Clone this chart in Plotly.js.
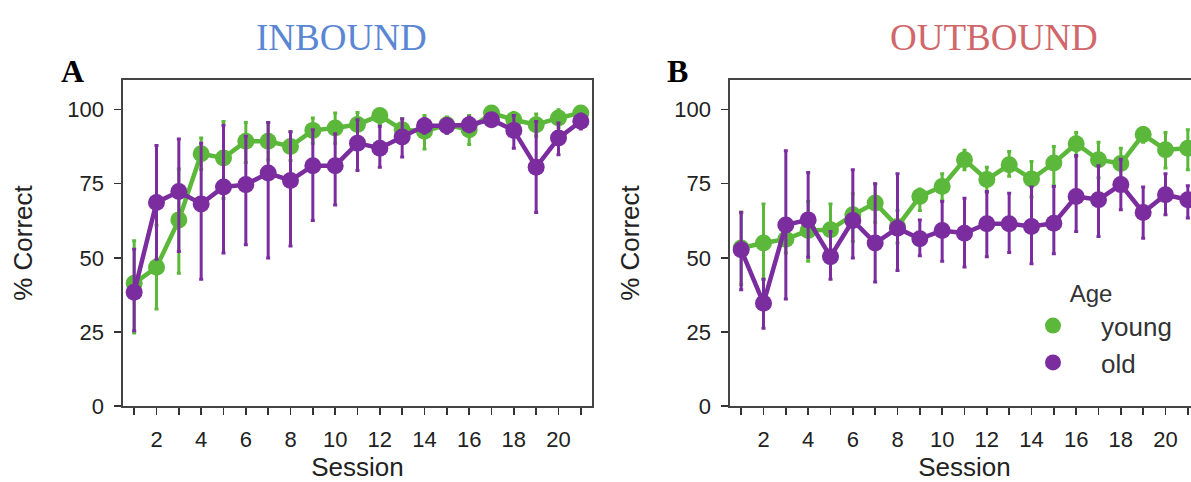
<!DOCTYPE html>
<html>
<head>
<meta charset="utf-8">
<script src="https://cdn.plot.ly/plotly-3.0.1.min.js"></script>
<style>
html, body { margin: 0; padding: 0; overflow: hidden; background: #fff; }
#chart { width: 1204px; height: 482px; }
</style>
</head>
<body>
<div id="chart"></div>
<script>
// Sessions
const sessions = [1,2,3,4,5,6,7,8,9,10,11,12,13,14,15,16,17,18,19,20,21];
const xTickText = ['', '2', '', '4', '', '6', '', '8', '', '10', '', '12', '', '14', '', '16', '', '18', '', '20', ''];
const yTicks = [0, 25, 50, 75, 100];

// INBOUND — young
const inYoung      = [41.4, 46.8, 62.8, 85.1, 83.7, 89.3, 89.3, 87.6, 93.0, 93.8, 95.0, 98.0, 93.2, 92.7, 94.9, 93.2, 98.9, 96.6, 94.9, 97.2, 98.9];
const inYoungLow   = [24.6, 32.7, 44.8, 79.8, 70.0, 82.2, 83.0, 82.8, 88.7, 88.7, 91.0, 95.0, 89.0, 86.7, 92.0, 88.2, 97.0, 94.0, 91.0, 94.0, 97.0];
const inYoungHigh  = [55.8, 61.0, 80.0, 90.4, 96.0, 95.7, 95.7, 92.5, 97.2, 98.9, 99.0, 100, 97.0, 98.0, 97.5, 98.0, 100, 99.0, 98.5, 100, 100];

// INBOUND — old
const inOld        = [38.4, 68.7, 72.4, 68.2, 73.9, 74.7, 78.6, 76.1, 81.1, 81.1, 88.7, 87.0, 90.8, 94.6, 94.6, 94.9, 96.6, 93.0, 80.6, 90.4, 96.1];
const inOldLow     = [25.4, 49.5, 52.1, 42.8, 51.6, 54.4, 49.9, 54.0, 62.6, 67.8, 79.5, 80.6, 84.0, 92.0, 92.0, 92.5, 95.0, 87.0, 65.3, 84.8, 93.5];
const inOldHigh    = [52.9, 87.9, 90.1, 88.7, 94.7, 91.0, 95.7, 92.5, 93.2, 91.9, 96.6, 94.4, 96.8, 97.0, 97.0, 97.5, 98.5, 98.0, 96.0, 95.5, 98.5];

// OUTBOUND — young
const outYoung     = [53.3, 55.0, 56.3, 59.2, 59.5, 64.5, 68.5, 60.6, 70.7, 74.1, 83.1, 76.4, 81.4, 76.6, 82.0, 88.5, 83.1, 81.8, 91.6, 86.5, 87.0];
const outYoungLow  = [41.0, 42.8, 51.6, 48.8, 51.0, 55.5, 62.0, 55.0, 66.0, 69.4, 79.7, 72.0, 77.5, 70.5, 74.3, 84.2, 77.0, 77.0, 89.0, 80.3, 79.7];
const outYoungHigh = [65.5, 68.2, 62.0, 69.0, 68.2, 71.6, 75.0, 66.0, 73.2, 78.4, 86.3, 80.6, 85.9, 82.5, 87.6, 92.3, 89.0, 87.0, 94.0, 92.3, 93.2];

// OUTBOUND — old
const outOld       = [52.7, 34.7, 61.1, 62.8, 50.4, 62.6, 55.0, 60.0, 56.4, 59.2, 58.3, 61.5, 61.5, 60.6, 61.7, 70.7, 69.6, 74.7, 65.3, 71.3, 69.6];
const outOldLow    = [39.2, 26.2, 36.1, 50.2, 42.8, 49.9, 41.8, 45.7, 50.7, 48.8, 46.9, 50.4, 51.8, 48.0, 51.4, 58.9, 57.2, 66.2, 56.6, 64.5, 63.4];
const outOldHigh   = [65.3, 42.8, 86.1, 78.8, 58.9, 79.7, 75.0, 78.4, 62.8, 69.0, 70.1, 72.4, 71.8, 73.9, 74.1, 84.5, 81.1, 83.3, 73.9, 78.4, 74.3];

const GREEN = '#5cb83b';
const PURPLE = '#7b2d9f';

function series(mean, low, high, color, xa, ya) {
  return {
    x: sessions, y: mean, xaxis: xa, yaxis: ya,
    type: 'scatter', mode: 'lines+markers', showlegend: false,
    line: {color: color, width: 4.5},
    marker: {color: color, size: 17},
    error_y: {
      type: 'data', symmetric: false,
      array: high.map((h, i) => h - mean[i]),
      arrayminus: mean.map((m, i) => m - low[i]),
      color: color, thickness: 3, width: 2
    },
    hoverinfo: 'x+y'
  };
}

const data = [
  series(inYoung, inYoungLow, inYoungHigh, GREEN, 'x', 'y'),
  series(inOld, inOldLow, inOldHigh, PURPLE, 'x', 'y'),
  series(outYoung, outYoungLow, outYoungHigh, GREEN, 'x2', 'y2'),
  series(outOld, outOldLow, outOldHigh, PURPLE, 'x2', 'y2'),
  {x: [null], y: [null], xaxis: 'x2', yaxis: 'y2', type: 'scatter', mode: 'markers', name: 'young', marker: {color: GREEN, size: 17}},
  {x: [null], y: [null], xaxis: 'x2', yaxis: 'y2', type: 'scatter', mode: 'markers', name: 'old', marker: {color: PURPLE, size: 17}}
];

const tickFont = {family: 'Liberation Sans, Arial, sans-serif', size: 22, color: '#222'};
const titleFont = {family: 'Liberation Sans, Arial, sans-serif', size: 26, color: '#222'};

function xAxis(domain, anchor) {
  return {
    domain: domain, anchor: anchor, range: [0.5, 21.5],
    tickmode: 'array', tickvals: sessions, ticktext: xTickText,
    ticks: 'outside', ticklen: 7, tickwidth: 1.5, tickcolor: '#333',
    showline: true, linecolor: '#444', linewidth: 1.6, mirror: true,
    showgrid: false, zeroline: false, tickfont: tickFont,
    ticklabelstandoff: 6,
    title: {text: 'Session', font: titleFont, standoff: 6}
  };
}
function yAxis(anchor) {
  return {
    anchor: anchor, range: [0, 110],
    tickmode: 'array', tickvals: yTicks,
    ticks: 'outside', ticklen: 7, tickwidth: 1.5, tickcolor: '#333',
    showline: true, linecolor: '#444', linewidth: 1.6, mirror: true,
    showgrid: false, zeroline: false, tickfont: tickFont,
    ticklabelstandoff: 6,
    title: {text: '% Correct', font: titleFont, standoff: 27}
  };
}

const W = 1077; // plot width in px
const layout = {
  width: 1204, height: 482,
  margin: {l: 123, r: 4, t: 80, b: 76},
  paper_bgcolor: '#fff', plot_bgcolor: '#fff',
  xaxis: xAxis([0, 469 / W], 'y'),
  yaxis: yAxis('x'),
  xaxis2: xAxis([607 / W, 1076 / W], 'y2'),
  yaxis2: yAxis('x2'),
  showlegend: true,
  legend: {
    x: (1005 - 123) / W, y: (406 - 271) / 326, xanchor: 'left', yanchor: 'top',
    bgcolor: 'rgba(0,0,0,0)', borderwidth: 0,
    itemwidth: 86,
    font: {family: 'Liberation Sans, Arial, sans-serif', size: 26, color: '#333'},
    title: {text: 'Age', side: 'top center', font: {family: 'Liberation Sans, Arial, sans-serif', size: 24, color: '#333'}},
    tracegroupgap: 0
  },
  annotations: [
    {text: 'INBOUND', xref: 'paper', yref: 'paper', x: (341.5 - 123) / W, y: (406 - 37) / 326,
     xanchor: 'center', yanchor: 'middle', showarrow: false,
     font: {family: 'Liberation Serif, Times New Roman, serif', size: 37, color: '#5a86d4'}},
    {text: 'OUTBOUND', xref: 'paper', yref: 'paper', x: (994 - 123) / W, y: (406 - 37) / 326,
     xanchor: 'center', yanchor: 'middle', showarrow: false,
     font: {family: 'Liberation Serif, Times New Roman, serif', size: 37, color: '#d0676a'}},
    {text: '<b>A</b>', xref: 'paper', yref: 'paper', x: (72.5 - 123) / W, y: (406 - 71) / 326,
     xanchor: 'center', yanchor: 'middle', showarrow: false,
     font: {family: 'Liberation Serif, Times New Roman, serif', size: 32, color: '#000'}},
    {text: '<b>B</b>', xref: 'paper', yref: 'paper', x: (677 - 123) / W, y: (406 - 71) / 326,
     xanchor: 'center', yanchor: 'middle', showarrow: false,
     font: {family: 'Liberation Serif, Times New Roman, serif', size: 32, color: '#000'}}
  ]
};

Plotly.newPlot('chart', data, layout, {displayModeBar: false, staticPlot: true});
</script>
</body>
</html>
